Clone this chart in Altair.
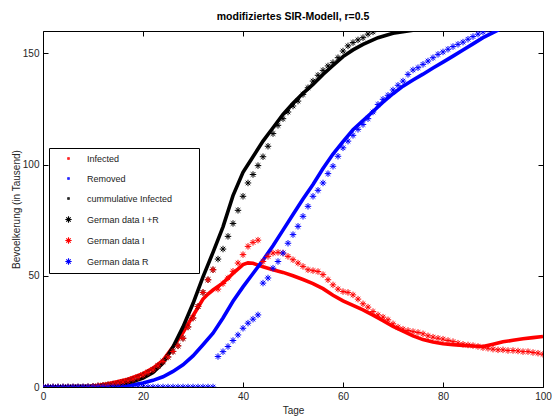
import altair as alt
import pandas as pd

title_text = "modifiziertes SIR-Modell, r=0.5"
x_title = "Tage"
y_title = "Bevoelkerung (in Tausend)"
x_ticks = [0, 20, 40, 60, 80, 100]
y_ticks = [0, 50, 100, 150]
x_domain = [0, 100]
y_domain = [0, 160]

series_names = ["Infected", "Removed", "cummulative Infected",
                "German data I +R", "German data I", "German data R"]
series_colors = ["#ff0000", "#0000ff", "#000000", "#000000", "#ff0000", "#0000ff"]

# model curves (solid)
model_I_days = [0, 10, 13, 15, 17, 20, 22, 24, 26, 28, 30, 32, 33, 34, 36, 38, 40, 41, 42, 44,
                46, 48, 50, 52, 54, 56, 58, 60, 62, 64, 66, 68, 70, 72, 74, 76, 78, 80, 82, 84,
                86, 88, 90, 92, 94, 96, 98, 100]
model_I = [0, 0.3, 1.5, 2.5, 3.5, 6, 8.5, 12, 18, 24.5, 32, 39.5, 41.8, 43.6, 46.8, 51, 55, 55.8, 55.6, 54,
           52.7, 51.5, 50, 48.3, 46.5, 44.2, 41.2, 38.7, 36.7, 34.7, 32.3, 29.8, 27.2, 25.1, 23, 21.3, 20.2, 19.4, 19, 18.7,
           18.4, 18.2, 19.2, 20.3, 21, 21.7, 22.2, 22.7]

model_R_days = [0, 15, 18, 20, 22, 24, 26, 28, 30, 32, 34, 36, 38, 40, 42, 44, 46, 48, 50, 52,
                54, 56, 58, 60, 62, 64, 66, 68, 70, 72, 74, 76, 78, 80, 82, 84, 86, 88, 90, 92]
model_R = [0, 0.3, 1, 1.8, 3, 4.6, 7, 10, 14, 19, 24.2, 31, 38.5, 45, 51, 57, 63.5, 70.5, 77.5, 84.5,
           91, 98.2, 104.7, 110.3, 115.6, 119.7, 123.8, 128, 131.8, 135.2, 138, 140.6, 143.4, 146, 148.7, 151.5, 154.2, 157, 159.3, 161.5]

model_C_days = [0, 10, 15, 18, 20, 22, 24, 26, 28, 30, 32, 34, 36, 38, 40, 41, 42, 44, 46, 48,
                50, 52, 54, 56, 58, 60, 62, 64, 67, 70, 74]
model_C = [0, 0.3, 1, 2.5, 4, 6.5, 10.7, 18, 27, 37.5, 49.5, 60.5, 72, 86, 96.5, 100, 103.5, 110.5, 116.5, 122.5,
           127.5, 132, 136, 140.5, 144.5, 148.5, 151.5, 154, 157, 159, 160.3]

# German data (asterisks), one value per day
data_I_days = list(range(0, 101))
data_I = [0, 0, 0, 0, 0, 0, 0, 0, 0, 0.1,
          0.3, 0.5, 0.7, 1.0, 1.3, 1.7, 2.2, 2.8, 3.5, 4.3,
          5.4, 6.5, 7.7, 9.5, 11.5, 13.5, 16, 18.5, 21.9, 27,
          31, 36.2, 42.5, 48.2, 52.7, 44, 46.5, 49, 52, 55.7,
          59.5, 63.2, 65, 66, 56.4, 58.7, 60.2, 60.5, 60.2, 58.7,
          57.2, 55.7, 54.2, 52.7, 52.3, 51.9, 50.5, 48.2, 45.9, 44,
          42.9, 42.5, 41.4, 39.5, 37.4, 35.9, 33.9, 32.4, 31.4, 30.2,
          28.4, 26.9, 26, 25.4, 24.9, 24.5, 23.9, 23, 22.4, 21.9,
          21.5, 20.9, 20.4, 19.7, 19.2, 18.9, 18.6, 18.2, 17.7, 17.4,
          17, 16.7, 16.7, 16.4, 16.4, 16.2, 15.9, 15.9, 15.5, 15.2,
          14.7]

data_R_days = list(range(0, 90))
data_R = [0, 0, 0, 0, 0, 0, 0, 0, 0, 0,
          0, 0, 0, 0, 0, 0, 0, 0, 0, 0,
          0, 0, 0, 0, 0, 0, 0, 0, 0, 0,
          0, 0, 0, 0, 0, 13.7, 15.9, 18.2, 20.9, 23.4,
          26.4, 28.7, 30.5, 32.4, 46.7, 49, 53.4, 56.4, 60.2, 64.6,
          68.5, 72.2, 76.7, 81.2, 85.7, 88.4, 91.7, 95.9, 99.2, 103.7,
          107.5, 110.5, 113.1, 115.8, 118, 120.6, 123.6, 127, 129.3, 131.1,
          133.5, 135.6, 137.5, 140.5, 142.5, 143.5, 145, 146.5, 148, 149.5,
          150.6, 151.8, 153, 154, 155, 156.3, 157.5, 158.6, 159.6, 160.8]

data_IR_days = list(range(0, 68))
data_IR = [0, 0, 0, 0, 0, 0, 0, 0, 0, 0.1,
           0.3, 0.5, 0.7, 1.0, 1.3, 1.7, 2.2, 2.8, 3.5, 4.3,
           5.4, 6.5, 7.7, 9.5, 11.5, 13.5, 16, 18.5, 21.9, 27,
           31, 36.2, 42.5, 48.2, 52.7, 57.5, 62, 67.7, 73.5, 79.4,
           85.7, 91.7, 95.5, 99.5, 103.5, 108.2, 113.9, 117.6, 120.6, 123.6,
           126.3, 128.5, 131.5, 134.5, 137.5, 140.1, 142.3, 144.3, 145.8, 148,
           151, 153.3, 154.8, 156, 157, 158.6, 159.6, 161]

FONT = "Liberation Sans"
ASTERISK = "M-1,0L1,0M0,-1L0,1M-0.7,-0.7L0.7,0.7M-0.7,0.7L0.7,-0.7"
DOT = "M-0.22,-0.22L0.22,-0.22L0.22,0.22L-0.22,0.22Z"
series_shapes = [DOT, DOT, DOT, ASTERISK, ASTERISK, ASTERISK]

xscale = alt.Scale(domain=x_domain, nice=False, zero=False)
yscale = alt.Scale(domain=y_domain, nice=False, zero=False)

x_axis = alt.Axis(values=x_ticks, title=x_title, offset=-5, tickSize=5, domain=False, grid=False,
                  labelPadding=4, titlePadding=4, labelFlush=False)
y_axis = alt.Axis(values=y_ticks, title=y_title, offset=-5, tickSize=5, domain=False, grid=False,
                  labelPadding=4, titlePadding=1, labelFlush=False)


def line_layer(days, vals, color):
    df = pd.DataFrame({"day": days, "value": vals})
    return alt.Chart(df).mark_line(color=color, strokeWidth=3.6, clip=True).encode(
        x=alt.X("day:Q", scale=xscale, axis=x_axis),
        y=alt.Y("value:Q", scale=yscale, axis=y_axis),
    )


lines = [
    line_layer(model_I_days, model_I, series_colors[0]),
    line_layer(model_R_days, model_R, series_colors[1]),
    line_layer(model_C_days, model_C, series_colors[2]),
]

rows = []
for name, days, vals in [(series_names[3], data_IR_days, data_IR),
                         (series_names[4], data_I_days, data_I),
                         (series_names[5], data_R_days, data_R)]:
    for d, v in zip(days, vals):
        rows.append({"day": d, "value": v, "series": name})
pts_df = pd.DataFrame(rows)

points = alt.Chart(pts_df).mark_point(filled=False, size=42, strokeWidth=1, clip=True, opacity=1).encode(
    x=alt.X("day:Q", scale=xscale, axis=x_axis),
    y=alt.Y("value:Q", scale=yscale, axis=y_axis),
    color=alt.Color("series:N", scale=alt.Scale(domain=series_names, range=series_colors),
                    legend=alt.Legend(orient="none", legendX=6, legendY=117,
                                      title="\u00a0", titleOrient="right", titlePadding=21,
                                      titleFontSize=9, titleFont=FONT,
                                      strokeColor="black", fillColor="white", padding=6,
                                      symbolOffset=9, labelOffset=14, rowPadding=10,
                                      labelFontSize=9, labelFont=FONT, labelColor="#222222",
                                      symbolSize=40, symbolStrokeWidth=1.1, cornerRadius=0)),
    shape=alt.Shape("series:N", scale=alt.Scale(domain=series_names, range=series_shapes)),
)

inner = alt.layer(*lines, points)

mirror_df = pd.DataFrame({"day": [x_domain[0]], "value": [y_domain[0]]})
mirror = alt.Chart(mirror_df).mark_point(opacity=0).encode(
    x=alt.X("day:Q", scale=xscale,
            axis=alt.Axis(orient="top", values=x_ticks, labels=False, title=None, offset=-5,
                          tickSize=5, domain=False, grid=False)),
    y=alt.Y("value:Q", scale=yscale,
            axis=alt.Axis(orient="right", values=y_ticks, labels=False, title=None, offset=-5,
                          tickSize=5, domain=False, grid=False)),
)

chart = alt.layer(inner, mirror).resolve_scale(x="independent", y="independent").properties(
    width=500, height=356,
    title=alt.TitleParams(text=title_text, font=FONT, fontSize=10.5, fontWeight="bold",
                          color="black", offset=8, anchor="middle"),
    padding={"left": 35, "top": 23, "right": 9, "bottom": 30},
    autosize=alt.AutoSizeParams(type="none"),
).configure_view(stroke="black", strokeWidth=1).configure_axis(
    labelFont=FONT, titleFont=FONT, labelFontSize=10, titleFontSize=10,
    labelColor="#262626", titleColor="#262626", tickColor="black", titleFontWeight="normal",
)

chart.save("out.html", embed_options={"renderer": "svg", "actions": False})
